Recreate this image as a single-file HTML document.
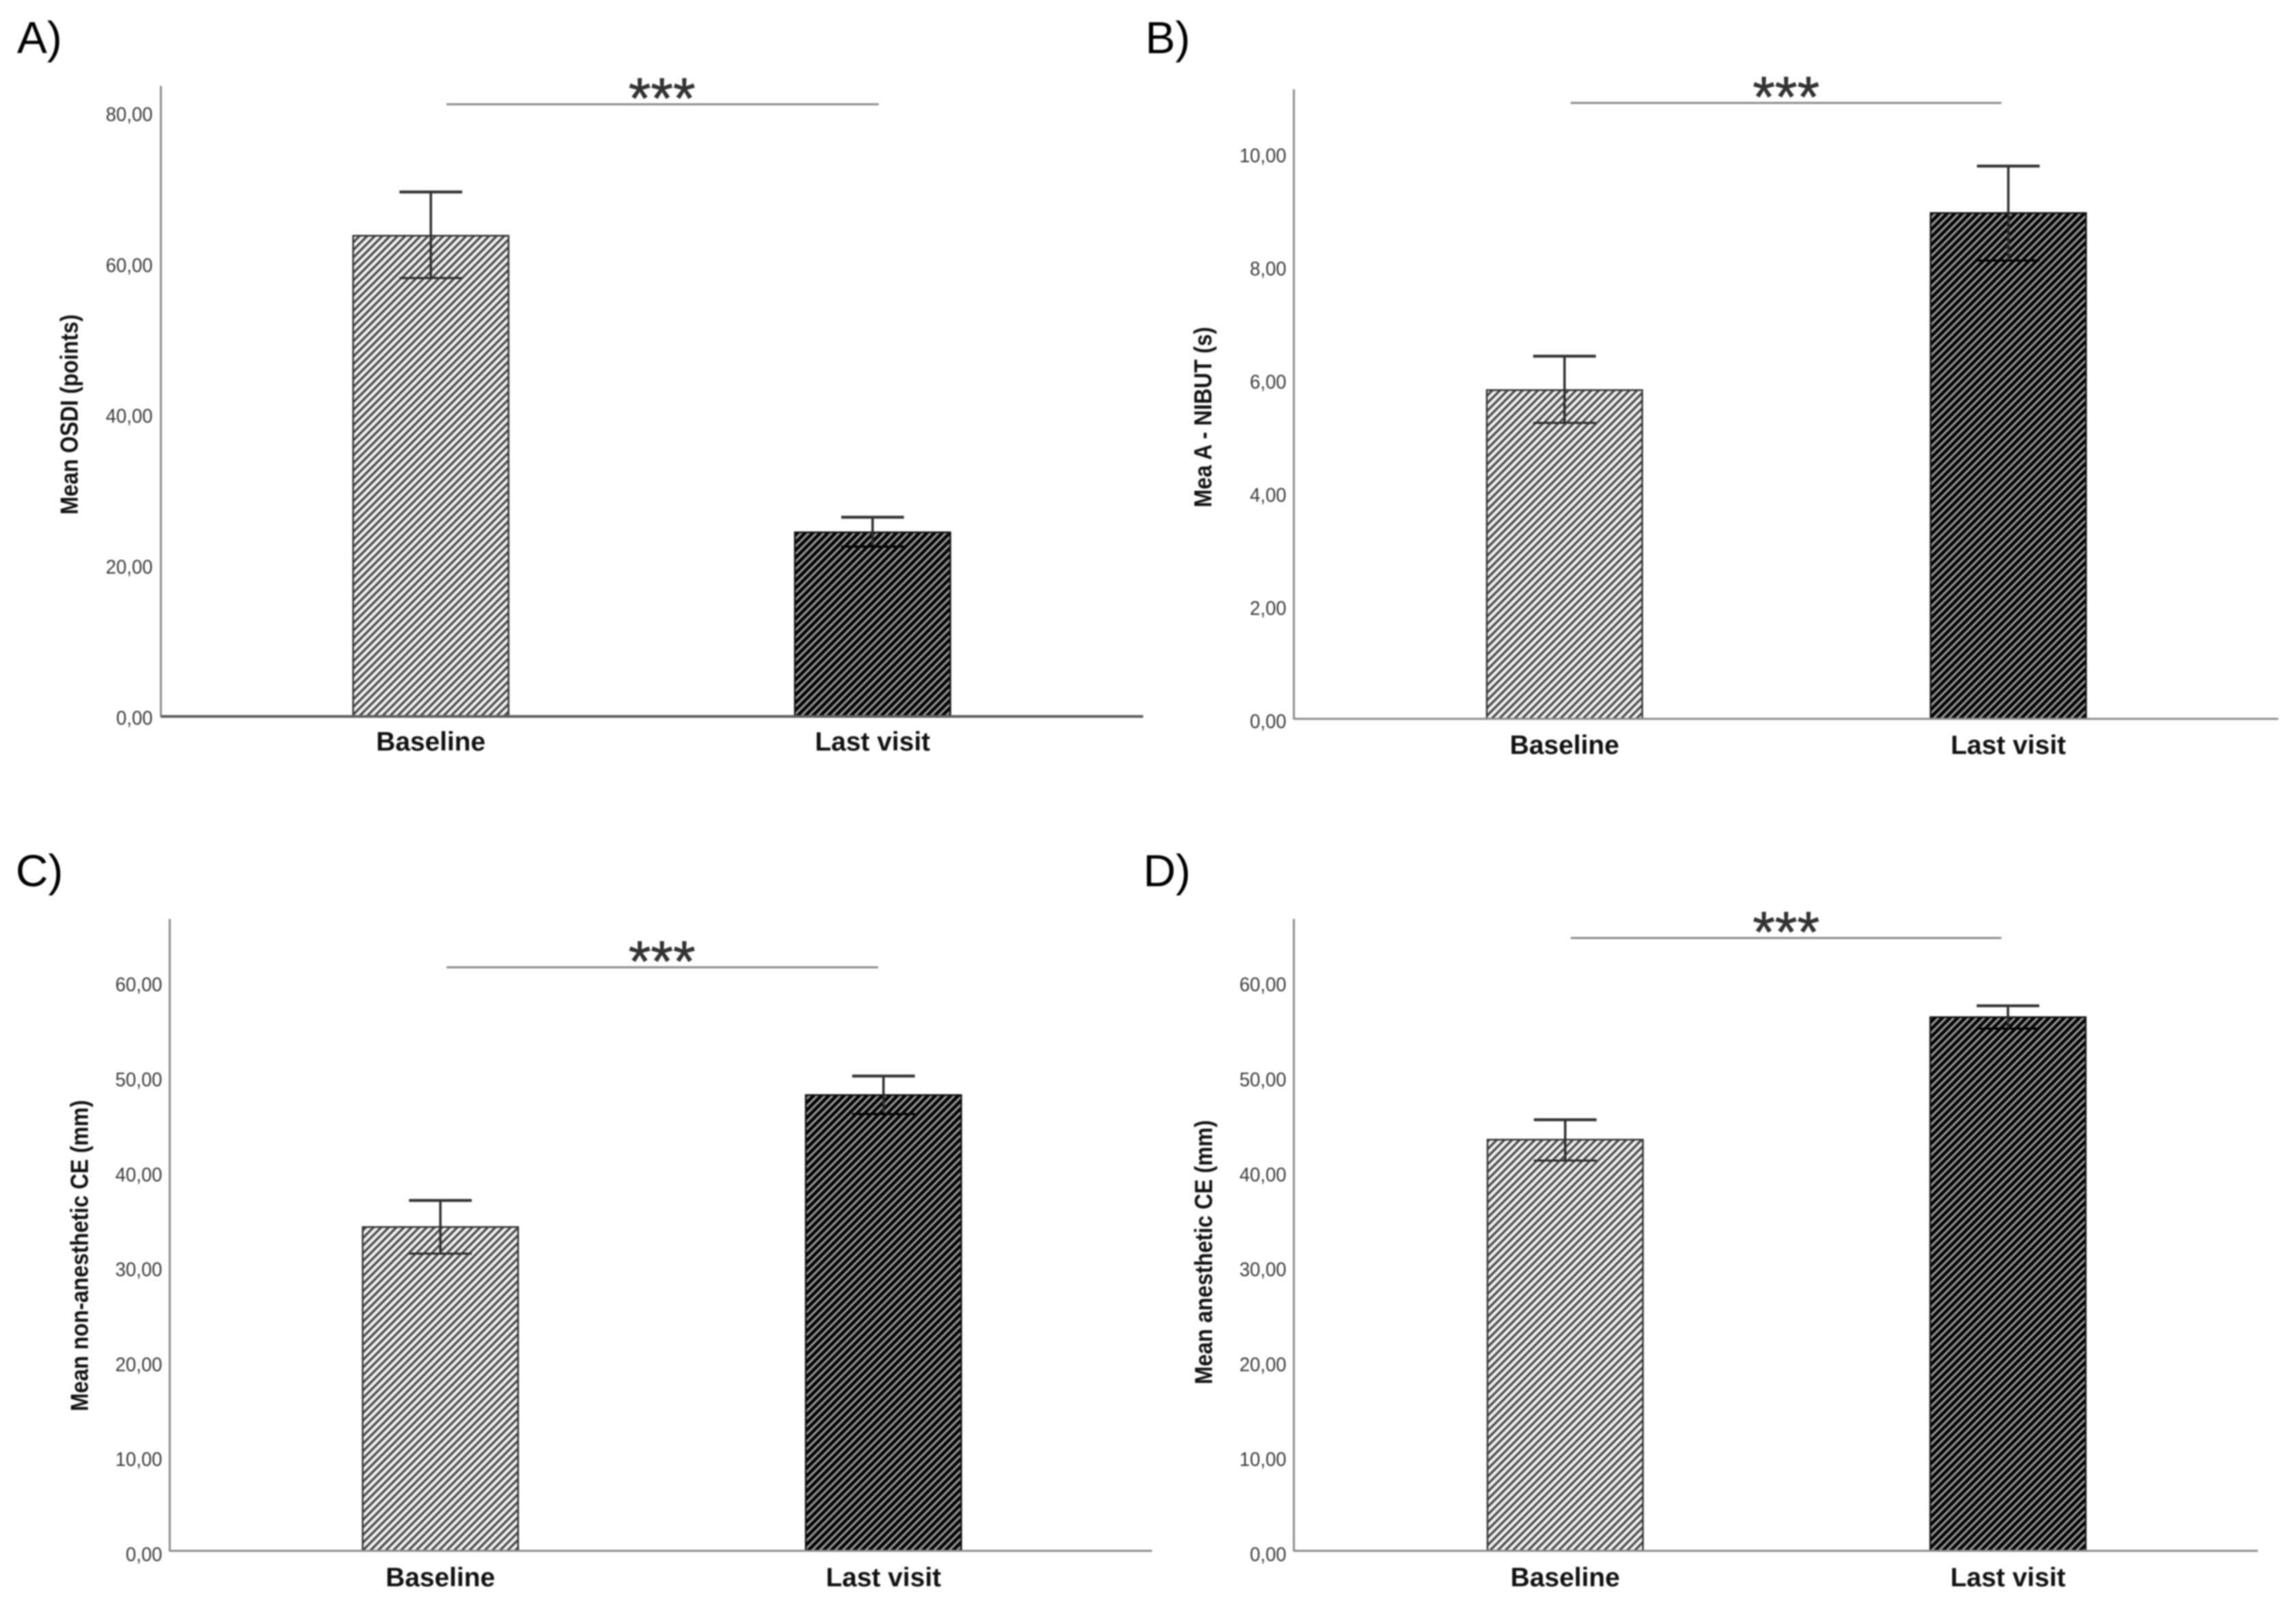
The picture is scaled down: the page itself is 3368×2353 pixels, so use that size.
<!DOCTYPE html>
<html lang="en">
<head>
<meta charset="utf-8">
<title>Baseline vs last visit bar charts</title>
<style>
html,body{margin:0;padding:0;background:#fff;}
body{width:3368px;height:2353px;overflow:hidden;}
svg{display:block;filter:blur(1px);}
text{font-family:"Liberation Sans",Arial,sans-serif;}
</style>
</head>
<body>
<svg id="figure" xmlns="http://www.w3.org/2000/svg" width="3368" height="2353" viewBox="0 0 3368 2353">
  <defs>
    <pattern id="hatch-light" patternUnits="userSpaceOnUse" width="7.9" height="7.9" patternTransform="rotate(45)">
      <rect width="7.9" height="7.9" fill="#f0f0f0"/>
      <rect width="3.3" height="7.9" fill="#444444"/>
    </pattern>
    <pattern id="hatch-dark" patternUnits="userSpaceOnUse" width="7.9" height="7.9" patternTransform="rotate(45)">
      <rect width="7.9" height="7.9" fill="#030303"/>
      <rect width="3" height="7.9" fill="#a0a0a0"/>
    </pattern>
  </defs>
  <rect width="3368" height="2353" fill="#ffffff"/>
</svg>
<script>
// ---- chart data ----
const categories = ['Baseline', 'Last visit'];

const ticksA = [0, 20, 40, 60, 80];
const meansA = [63.7, 24.4];
const upperA = [69.5, 26.4];
const lowerA = [58.1, 22.5];

const ticksB = [0, 2, 4, 6, 8, 10];
const meansB = [5.81, 8.94];
const upperB = [6.41, 9.77];
const lowerB = [5.23, 8.1];

const ticksC = [0, 10, 20, 30, 40, 50, 60];
const meansC = [34.1, 48.0];
const upperC = [36.9, 50.0];
const lowerC = [31.3, 46.0];

const ticksD = [0, 10, 20, 30, 40, 50, 60];
const meansD = [43.3, 56.2];
const upperD = [45.4, 57.4];
const lowerD = [41.1, 55.0];

const significanceLabel = '***';

const root = document.getElementById('figure');
const NS = 'http://www.w3.org/2000/svg';

function make(tag, parent, geometry) {
  const el = document.createElementNS(NS, tag);
  for (const k in geometry) el.setAttribute(k, geometry[k]);
  parent.appendChild(el);
  return el;
}

function drawPanel(p) {
  const g = make('g', root, {});
  
  

  const y = v => p.zeroY - (v / p.domainMax) * (p.zeroY - p.topY);
  const x = i => p.firstX + i * p.stepX;

  const letter = make('text', g, {x: p.letterX, y: p.letterY, 'font-size': 66, fill: '#000'});
  
  
  letter.textContent = p.letter;

  const title = make('text', g, {
    'font-size': 36, 'font-weight': 'bold', fill: '#111', 'text-anchor': 'middle',
    transform: 'translate(' + p.titleX + ' ' + p.titleY + ') rotate(-90) scale(0.885 1)'
  });
  
  
  title.textContent = p.title;

  p.ticks.forEach(t => {
    const label = make('text', g, {
      'font-size': 29, fill: '#3a3a3a', 'text-anchor': 'end',
      transform: 'translate(' + p.tickRight + ' ' + (y(t) + p.labelOffset + 9) + ') scale(0.95 1)'
    });
    
    
    label.textContent = t.toFixed(2).replace('.', ',');
  });

  categories.forEach((c, i) => {
    const w = 228;
    const bar = make('rect', g, {
      x: x(i) - w / 2, y: y(p.means[i]), width: w, height: y(0) - y(p.means[i]),
      fill: i === 0 ? 'url(#hatch-light)' : 'url(#hatch-dark)',
      stroke: i === 0 ? '#333' : '#111', 'stroke-width': 2.5
    });
    
    

    const stem = make('line', g, {
      x1: x(i), x2: x(i), y1: y(p.upper[i]), y2: y(p.lower[i]), stroke: '#2b2b2b', 'stroke-width': 3.5
    });
    
    

    const capTop = make('line', g, {
      x1: x(i) - 46, x2: x(i) + 46, y1: y(p.upper[i]), y2: y(p.upper[i]), stroke: '#333', 'stroke-width': 4.2
    });
    
    

    const capBottom = make('line', g, {
      x1: x(i) - 46, x2: x(i) + 46, y1: y(p.lower[i]), y2: y(p.lower[i]),
      stroke: i === 0 ? '#2b2b2b' : '#000', 'stroke-width': 3
    });
    
    

    const catLabel = make('text', g, {
      x: x(i), y: p.catY, 'font-size': 39, 'font-weight': 'bold', fill: '#111', 'text-anchor': 'middle'
    });
    
    
    catLabel.textContent = c;
  });

  const yAxis = make('line', g, {
    x1: p.axisX, x2: p.axisX, y1: p.topY, y2: p.zeroY + 1, stroke: '#8c8c8c', 'stroke-width': 3
  });
  
  

  const xAxis = make('line', g, {
    x1: p.axisX, x2: p.axisRight, y1: p.zeroY, y2: p.zeroY, stroke: p.xAxisColor, 'stroke-width': p.xAxisWidth
  });
  
  

  const sigLine = make('line', g, {
    x1: p.sigFrom, x2: p.sigTo, y1: p.sigY, y2: p.sigY, stroke: '#8a8a8a', 'stroke-width': 3
  });
  
  

  const stars = make('text', g, {
    x: p.starX, y: p.sigY + 20, 'font-size': 84, fill: '#333', 'text-anchor': 'middle',
    stroke: '#333', 'stroke-width': 0.8
  });
  
  
  stars.textContent = significanceLabel;
}

drawPanel({
  key: 'a', letter: 'A)', letterX: 25, letterY: 78,
  title: 'Mean OSDI (points)', titleX: 114, titleY: 608,
  ticks: ticksA, means: meansA, upper: upperA, lower: lowerA,
  domainMax: 83.56, topY: 126, zeroY: 1051, labelOffset: 3,
  axisX: 236, axisRight: 1677, tickRight: 224, xAxisColor: '#5e5e5e', xAxisWidth: 4,
  firstX: 632, stepX: 648, catY: 1101,
  sigFrom: 655, sigTo: 1289, sigY: 153, starX: 971
});

drawPanel({
  key: 'b', letter: 'B)', letterX: 1680, letterY: 78,
  title: 'Mea A - NIBUT (s)', titleX: 1777, titleY: 612,
  ticks: ticksB, means: meansB, upper: upperB, lower: lowerB,
  domainMax: 11.127, topY: 131, zeroY: 1054.5, labelOffset: 4.5,
  axisX: 1898, axisRight: 3342, tickRight: 1887, xAxisColor: '#8c8c8c', xAxisWidth: 3,
  firstX: 2295, stepX: 651, catY: 1106,
  sigFrom: 2304, sigTo: 2936, sigY: 151, starX: 2620
});

drawPanel({
  key: 'c', letter: 'C)', letterX: 23, letterY: 1300,
  title: 'Mean non-anesthetic CE (mm)', titleX: 129, titleY: 1842,
  ticks: ticksC, means: meansC, upper: upperC, lower: lowerC,
  domainMax: 66.55, topY: 1348, zeroY: 2275, labelOffset: 6,
  axisX: 249, axisRight: 1690, tickRight: 238, xAxisColor: '#8c8c8c', xAxisWidth: 3,
  firstX: 646, stepX: 650, catY: 2327,
  sigFrom: 655, sigTo: 1288, sigY: 1419, starX: 971
});

drawPanel({
  key: 'd', letter: 'D)', letterX: 1677, letterY: 1300,
  title: 'Mean anesthetic CE (mm)', titleX: 1778, titleY: 1837,
  ticks: ticksD, means: meansD, upper: upperD, lower: lowerD,
  domainMax: 66.55, topY: 1348, zeroY: 2275, labelOffset: 6,
  axisX: 1898, axisRight: 3312, tickRight: 1887, xAxisColor: '#8c8c8c', xAxisWidth: 3,
  firstX: 2296, stepX: 649.5, catY: 2327,
  sigFrom: 2304, sigTo: 2936, sigY: 1376, starX: 2620
});
</script>
</body>
</html>
